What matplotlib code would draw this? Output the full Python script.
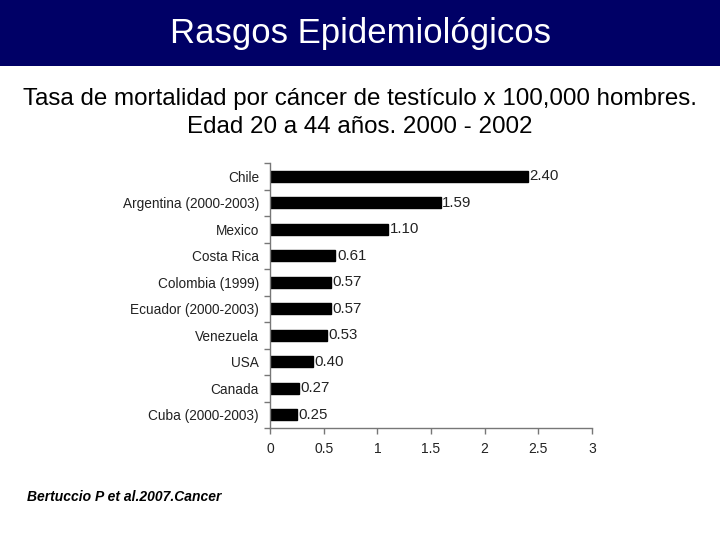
import matplotlib
matplotlib.use("Agg")
import matplotlib.pyplot as plt
from matplotlib.patches import Rectangle

countries = ["Chile", "Argentina (2000-2003)", "Mexico", "Costa Rica", "Colombia (1999)",
             "Ecuador (2000-2003)", "Venezuela", "USA", "Canada", "Cuba (2000-2003)"]
values = [2.40, 1.59, 1.10, 0.61, 0.57, 0.57, 0.53, 0.40, 0.27, 0.25]
value_labels = ["2.40", "1.59", "1.10", "0.61", "0.57", "0.57", "0.53", "0.40", "0.27", "0.25"]
xticks = [0, 0.5, 1, 1.5, 2, 2.5, 3]
xtick_labels = ["0", "0.5", "1", "1.5", "2", "2.5", "3"]

title = "Rasgos Epidemiológicos"
subtitle = "Tasa de mortalidad por cáncer de testículo x 100,000 hombres.\nEdad 20 a 44 años. 2000 - 2002"
source = "Bertuccio P et al.2007.Cancer"

plt.rcParams['font.family'] = ['Liberation Sans', 'DejaVu Sans']

fig = plt.figure(figsize=(7.2, 5.4), dpi=100)
fig.patch.set_facecolor("white")

# header band
fig.add_artist(Rectangle((0, 1 - 66/540), 1, 66/540, transform=fig.transFigure,
                         facecolor="#000066", edgecolor="none", zorder=0))
fig.text(0.5, 1 - 33/540, title, color="white", fontsize=25, ha="center", va="center")
fig.text(0.5, 1 - 113/540, subtitle, color="black", fontsize=17.4, ha="center", va="center",
         linespacing=1.35)
fig.text(27/720, 1 - 497/540, source, color="black", fontsize=10, fontweight="bold",
         fontstyle="italic", ha="left", va="center")

ax = fig.add_axes([270/720, 1 - 428/540, 322/720, 265/540])
n = len(countries)
ypos = list(range(n))
ax.barh(ypos, values, height=0.42, color="black", edgecolor="black")
for y, v, lab in zip(ypos, values, value_labels):
    ax.text(v + 0.015, y, lab, va="center", ha="left", fontsize=10.8, color="#222222")

ax.set_xlim(0, 3)
ax.set_ylim(n - 0.5, -0.5)
ax.set_xticks(xticks)
ax.set_xticklabels(xtick_labels, fontsize=10, color="#222222")
ax.set_yticks(ypos)
ax.set_yticklabels(countries, fontsize=9.8, color="#222222")
ax.tick_params(axis="y", which="major", length=0, pad=8)
ax.set_yticks([i - 0.5 for i in range(n + 1)], minor=True)
ax.tick_params(axis="y", which="minor", length=4, color="#777777", width=1)
ax.tick_params(axis="x", length=4, color="#777777", width=1, pad=6)
for s in ["top", "right"]:
    ax.spines[s].set_visible(False)
for s in ["left", "bottom"]:
    ax.spines[s].set_color("#777777")
    ax.spines[s].set_linewidth(1)

fig.savefig("out.png", dpi=100)
